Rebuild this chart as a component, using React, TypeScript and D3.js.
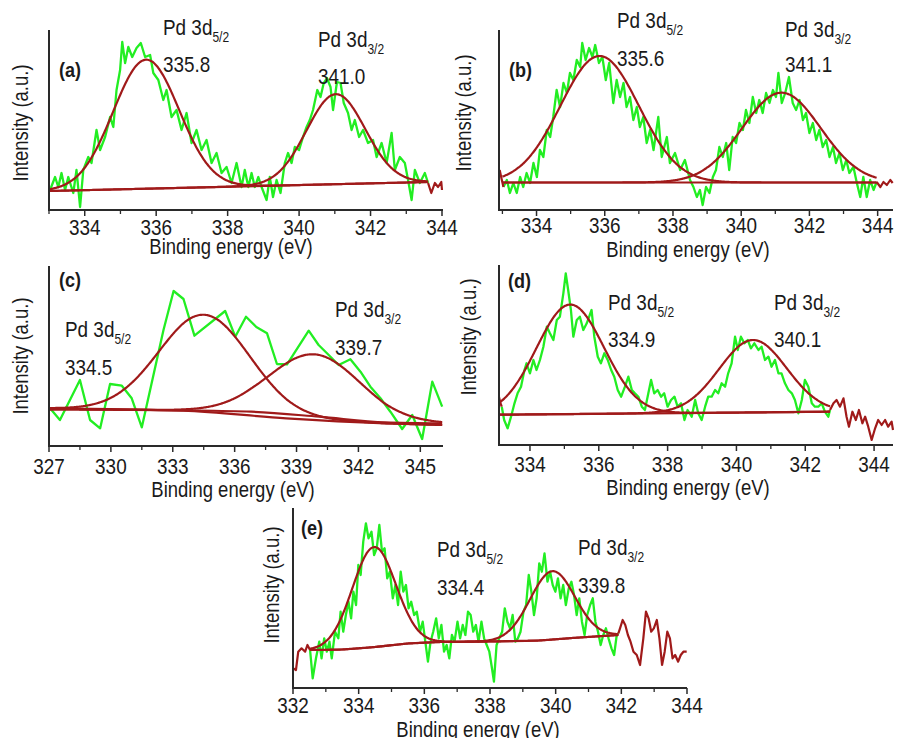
import React from "react";
import * as d3 from "d3";

type Pt = [number, number];

// ---- panel (a) ----
const aData: Pt[] = [
  [333.03, 20], [333.17, 33], [333.26, 23], [333.35, 37], [333.45, 20], [333.54, 33], [333.68, 17], [333.77, 40],
  [333.87, 3], [333.96, 40], [334.1, 53], [334.19, 47], [334.33, 80], [334.43, 60], [334.57, 73], [334.71, 93],
  [334.8, 83], [334.89, 120], [334.99, 140], [335.05, 168], [335.13, 147], [335.22, 163], [335.33, 153], [335.45, 162],
  [335.57, 167], [335.69, 153], [335.83, 155], [335.92, 137], [336.06, 130], [336.2, 110], [336.29, 120], [336.43, 93],
  [336.57, 100], [336.71, 80], [336.85, 97], [336.99, 67], [337.13, 80], [337.27, 60], [337.41, 70], [337.55, 47],
  [337.69, 57], [337.83, 37], [337.97, 43], [338.11, 27], [338.25, 47], [338.39, 23], [338.48, 40], [338.58, 23],
  [338.67, 37], [338.76, 23], [338.86, 33], [338.95, 23], [339.09, 10], [339.18, 33], [339.27, 13], [339.37, 30],
  [339.48, 17], [339.6, 47], [339.69, 57], [339.79, 47], [339.88, 63], [340.0, 60], [340.11, 73], [340.21, 83],
  [340.3, 90], [340.39, 100], [340.51, 120], [340.6, 113], [340.69, 127], [340.78, 132], [340.88, 123], [340.95, 100],
  [341.06, 128], [341.16, 127], [341.25, 107], [341.37, 97], [341.47, 80], [341.56, 90], [341.68, 73], [341.79, 80],
  [341.93, 67], [342.07, 70], [342.17, 53], [342.31, 67], [342.45, 47], [342.59, 77], [342.68, 40], [342.82, 53],
  [342.96, 47], [343.05, 30], [343.15, 10], [343.24, 40], [343.38, 27], [343.52, 37], [343.61, 27],
];
const aTail: Pt[] = [[343.61, 27], [343.7, 17], [343.8, 27], [343.89, 23], [343.98, 28], [344.0, 20]];
const aBaseline: Pt[] = [[333.0, 19], [343.61, 28]];
const aPeaks = [
  { center: 335.72, height: 129, sigma: 0.92 },
  { center: 341.03, height: 90, sigma: 0.82 },
];
const aTicks = [334, 336, 338, 340, 342, 344];
const aMinor = [333, 335, 337, 339, 341, 343];

// ---- panel (b) ----
const bData: Pt[] = [
  [333.03, 23], [333.13, 30], [333.22, 17], [333.32, 27], [333.42, 17], [333.52, 33], [333.61, 23], [333.71, 37],
  [333.81, 27], [333.91, 47], [334.01, 33], [334.1, 60], [334.2, 53], [334.3, 80], [334.4, 73], [334.49, 93],
  [334.59, 120], [334.69, 103], [334.79, 127], [334.89, 117], [334.98, 137], [335.08, 130], [335.18, 150], [335.28, 143],
  [335.34, 167], [335.44, 150], [335.54, 162], [335.64, 153], [335.72, 165], [335.83, 147], [335.93, 153], [336.03, 130],
  [336.13, 147], [336.25, 107], [336.35, 130], [336.45, 113], [336.55, 127], [336.64, 103], [336.74, 113], [336.84, 90],
  [336.94, 103], [337.03, 83], [337.13, 93], [337.23, 67], [337.33, 80], [337.43, 60], [337.57, 93], [337.67, 53],
  [337.82, 73], [337.91, 47], [338.06, 57], [338.21, 40], [338.35, 50], [338.5, 30], [338.6, 23], [338.7, 13],
  [338.79, 20], [338.87, 5], [338.97, 23], [339.07, 17], [339.17, 33], [339.26, 40], [339.36, 63], [339.46, 53],
  [339.56, 67], [339.65, 40], [339.75, 73], [339.85, 67], [339.95, 87], [340.05, 80], [340.14, 100], [340.24, 87],
  [340.34, 113], [340.44, 97], [340.53, 110], [340.63, 97], [340.73, 117], [340.83, 107], [340.93, 120], [341.02, 113],
  [341.09, 137], [341.19, 107], [341.29, 117], [341.4, 133], [341.51, 107], [341.61, 100], [341.71, 110], [341.81, 90],
  [341.9, 97], [342.0, 77], [342.1, 87], [342.2, 70], [342.29, 80], [342.39, 63], [342.49, 70], [342.59, 53],
  [342.69, 63], [342.78, 47], [342.88, 57], [342.98, 40], [343.08, 50], [343.17, 37], [343.29, 43], [343.39, 27],
  [343.49, 13], [343.58, 33], [343.68, 13], [343.78, 30], [343.88, 20], [343.97, 28],
];
const bTailLeft: Pt[] = [[332.92, 40], [332.97, 32], [333.03, 23]];
const bTail: Pt[] = [[343.97, 28], [344.08, 23], [344.17, 28], [344.27, 25], [344.37, 30], [344.44, 27]];
const bBaseline: Pt[] = [[333.0, 27.5], [343.97, 27.5]];
const bPeaks = [
  { center: 335.85, height: 126.5, sigma: 1.15 },
  { center: 341.18, height: 89.8, sigma: 1.15 },
];
const bTicks = [334, 336, 338, 340, 342, 344];
const bMinor = [333, 335, 337, 339, 341, 343];

// ---- panel (c) ----
const cData: Pt[] = [
  [327.05, 37.7], [327.53, 26], [328.5, 66], [328.99, 26], [329.48, 17.7], [329.96, 62], [330.53, 60.3], [331.01, 47.7],
  [331.5, 18.7], [332.55, 116], [333.04, 155], [333.52, 147], [334.05, 110.3], [335.54, 135], [336.03, 109.3],
  [336.55, 129.3], [337.05, 119], [337.57, 112.7], [338.05, 82], [338.54, 81.7], [339.59, 115.3], [340.07, 101],
  [340.56, 91], [341.04, 81], [341.61, 86.7], [342.1, 74.3], [342.58, 59.3], [343.07, 47.7], [343.55, 34.3],
  [344.12, 17], [344.61, 31], [345.09, 7], [345.58, 64.3], [346.06, 39.3],
];
const cBaseline1: Pt[] = [[327, 37.7], [333.5, 35.3], [338.5, 27.7], [343.3, 22.7], [346.06, 21]];
const cBaseline2: Pt[] = [[327, 36.7], [333.5, 35.7], [336.8, 34.3], [340.1, 29.3], [343.3, 23.7], [346.06, 22.7]];
const cPeaks = [
  { center: 334.54, height: 97.5, sigma: 2.2, base: 0 },
  { center: 339.88, height: 62, sigma: 2.2, base: 1 },
];
const cTicks = [327, 330, 333, 336, 339, 342, 345];
const cMinor = [328.5, 331.5, 334.5, 337.5, 340.5, 343.5];

// ---- panel (d) ----
const dData: Pt[] = [
  [333.18, 38.3], [333.25, 25], [333.35, 16.7], [333.45, 28.3], [333.55, 41.7], [333.64, 51.7], [333.74, 58.3],
  [333.84, 75], [333.9, 81.7], [334.0, 71.7], [334.1, 85], [334.19, 75], [334.29, 85], [334.39, 98.3], [334.49, 118.3],
  [334.58, 111.7], [334.68, 105], [334.78, 125], [334.87, 128.3], [334.97, 151.7], [335.04, 171.7], [335.11, 155],
  [335.19, 135], [335.26, 108.3], [335.36, 125], [335.45, 128.3], [335.55, 115], [335.65, 121.7], [335.79, 135],
  [335.87, 108.3], [335.97, 88.3], [336.06, 81.7], [336.16, 91.7], [336.26, 85], [336.36, 75], [336.45, 68.3],
  [336.55, 55], [336.65, 48.3], [336.76, 58.3], [336.86, 68.3], [336.96, 55], [337.05, 51.7], [337.15, 48.3],
  [337.25, 38.3], [337.34, 35], [337.44, 51.7], [337.52, 65], [337.61, 51.7], [337.71, 55], [337.81, 48.3],
  [337.9, 51.7], [338.0, 38.3], [338.1, 45], [338.2, 48.3], [338.29, 38.3], [338.39, 41.7], [338.49, 25], [338.58, 35],
  [338.7, 28.3], [338.8, 45], [338.89, 31.7], [338.99, 25], [339.09, 38.3], [339.18, 48.3], [339.28, 48.3],
  [339.38, 55], [339.47, 51.7], [339.57, 61.7], [339.67, 58.3], [339.76, 71.7], [339.86, 81.7], [339.96, 108.3],
  [340.04, 95], [340.13, 108.3], [340.23, 101.7], [340.33, 105], [340.42, 96.7], [340.52, 101.7], [340.64, 95],
  [340.73, 98.3], [340.83, 85], [340.93, 88.3], [341.02, 78.3], [341.12, 85], [341.22, 71.7], [341.31, 71.7],
  [341.41, 61.7], [341.51, 55], [341.61, 51.7], [341.7, 45], [341.8, 31.7], [341.9, 45], [341.99, 65], [342.09, 58.3],
  [342.19, 41.7], [342.28, 38.3], [342.38, 38.3], [342.48, 41.7], [342.57, 33.3], [342.67, 28.3], [342.72, 35],
];
const dTailLeft: Pt[] = [[333.1, 48], [333.14, 42], [333.18, 38.3]];
const dTail: Pt[] = [
  [342.72, 35], [342.82, 41.7], [342.91, 45], [343.01, 38.3], [343.11, 46.7], [343.2, 28.3], [343.27, 18.3],
  [343.37, 33.3], [343.47, 25], [343.56, 35], [343.66, 21.7], [343.74, 28.3], [343.83, 18.3], [343.93, 5],
  [344.03, 16.7], [344.12, 25], [344.22, 20], [344.32, 25], [344.41, 18.3], [344.51, 23.3], [344.55, 15],
];
const dBaseline: Pt[] = [[333.13, 30.3], [342.72, 33.3]];
const dPeaks = [
  { center: 335.17, height: 109.5, sigma: 0.98 },
  { center: 340.48, height: 72.4, sigma: 0.98 },
];
const dTicks = [334, 336, 338, 340, 342, 344];
const dMinor = [335, 337, 339, 341, 343];

// ---- panel (e) ----
const eData: Pt[] = [
  [332.52, 38], [332.6, 9.7], [332.7, 29.7], [332.8, 46.3], [332.87, 29.7], [332.95, 49.7], [333.03, 36.3],
  [333.11, 46.3], [333.18, 29.7], [333.28, 56.3], [333.38, 49.7], [333.45, 76.3], [333.53, 56.3], [333.61, 73],
  [333.69, 86.3], [333.77, 69.7], [333.84, 96.3], [333.92, 83], [333.99, 123], [334.06, 113], [334.14, 146.3],
  [334.22, 164.7], [334.3, 149.7], [334.39, 156.3], [334.47, 133], [334.55, 139.7], [334.63, 163], [334.71, 136.3],
  [334.79, 139.7], [334.87, 109.7], [334.95, 116.3], [335.04, 89.7], [335.12, 103], [335.2, 83], [335.28, 116.3],
  [335.36, 96.3], [335.44, 103], [335.52, 79.7], [335.6, 86.3], [335.69, 73], [335.77, 76.3], [335.87, 56.3],
  [335.95, 66.3], [336.03, 46.3], [336.11, 26.3], [336.19, 46.3], [336.27, 56.3], [336.36, 69.7], [336.44, 49.7],
  [336.52, 63], [336.6, 36.3], [336.68, 43], [336.76, 29.7], [336.84, 53], [336.92, 46.3], [337.01, 66.3],
  [337.09, 49.7], [337.17, 63], [337.25, 53], [337.33, 76.3], [337.41, 73], [337.49, 56.3], [337.57, 63],
  [337.65, 46.3], [337.74, 66.3], [337.82, 49.7], [337.9, 43], [337.98, 36.3], [338.06, 19.7], [338.12, 6.3],
  [338.2, 43], [338.28, 49.7], [338.37, 56.3], [338.45, 79.7], [338.53, 66.3], [338.61, 59.7], [338.69, 73],
  [338.77, 46.3], [338.85, 49.7], [338.93, 56.3], [339.02, 76.3], [339.1, 83], [339.18, 113], [339.26, 96.3],
  [339.34, 73], [339.42, 89.7], [339.5, 124.7], [339.58, 116.3], [339.66, 134.7], [339.75, 106.3], [339.83, 116.3],
  [339.91, 103], [339.99, 96.3], [340.07, 109.7], [340.15, 89.7], [340.23, 103], [340.31, 83], [340.4, 99.7],
  [340.48, 106.3], [340.56, 93], [340.64, 73], [340.72, 89.7], [340.8, 66.3], [340.88, 53], [340.96, 73], [341.05, 83],
  [341.13, 89.7], [341.21, 66.3], [341.29, 56.3], [341.37, 43], [341.45, 53], [341.53, 59.7], [341.61, 49.7],
  [341.7, 39.7], [341.78, 33], [341.86, 53], [341.91, 54.7],
];
const eTailLeft: Pt[] = [
  [332.01, 19.7], [332.09, 18], [332.16, 36.3], [332.26, 39.7], [332.37, 36.3], [332.44, 43], [332.52, 38],
];
const eTail: Pt[] = [
  [341.91, 54.7], [341.96, 59.7], [342.04, 68], [342.12, 63], [342.2, 53], [342.28, 46.3], [342.37, 36.3],
  [342.47, 33], [342.57, 23], [342.67, 49.7], [342.75, 76.3], [342.83, 69.7], [342.91, 56.3], [342.99, 59.7],
  [343.08, 68], [343.16, 49.7], [343.24, 23], [343.32, 36.3], [343.4, 56.3], [343.48, 49.7], [343.56, 29.7],
  [343.64, 33], [343.73, 26.3], [343.81, 33], [343.89, 36.3], [343.99, 36.3],
];
const eBaseline: Pt[] = [
  [332.52, 38], [333.5, 38.5], [334.5, 41], [335.5, 44.5], [336.5, 46], [338, 46.5], [339.5, 47.5], [340.5, 50], [341.91, 53],
];
const ePeaks = [
  { center: 334.47, height: 100, sigma: 0.66 },
  { center: 339.9, height: 68.3, sigma: 0.68 },
];
const eTicks = [332, 334, 336, 338, 340, 342, 344];
const eMinor = [333, 335, 337, 339, 341, 343];

const GREEN = "#22ee22";
const WINE = "#a01a1a";
const INK = "#1a1a1a";
const FONT = "'Liberation Sans', Arial, sans-serif";
const SX = 0.86;

const panels = [
  {
    tag: "(a)", tagPos: [59, 77], data: aData, tails: [aTail], baselines: [aBaseline],
    peaks: aPeaks.map((p) => ({ ...p, base: 0 })), fitRange: [333.0, 343.61],
    xDomain: [333, 344], xRange: [49, 442], axisEnd: 443, axisY: 210, ticks: aTicks, minor: aMinor, tickY: 235,
    yTitle: [28, 123], xTitle: [231, 254],
    notes: [
      { t: "Pd 3d", s: "5/2", x: 163, y: 35 }, { t: "335.8", x: 163, y: 72 },
      { t: "Pd 3d", s: "3/2", x: 318, y: 47 }, { t: "341.0", x: 318, y: 84 },
    ],
  },
  {
    tag: "(b)", tagPos: [509, 77], data: bData, tails: [bTailLeft, bTail], baselines: [bBaseline],
    peaks: bPeaks.map((p) => ({ ...p, base: 0 })), fitRange: [333.0, 343.97],
    xDomain: [332.9, 344.45], xRange: [499, 893], axisEnd: 893, axisY: 210, ticks: bTicks, minor: bMinor, tickY: 233,
    yTitle: [471, 113], xTitle: [688, 257],
    notes: [
      { t: "Pd 3d", s: "5/2", x: 617, y: 28 }, { t: "335.6", x: 617, y: 66 },
      { t: "Pd 3d", s: "3/2", x: 785, y: 37 }, { t: "341.1", x: 785, y: 72 },
    ],
  },
  {
    tag: "(c)", tagPos: [59, 287], data: cData, tails: [], baselines: [cBaseline1, cBaseline2],
    peaks: cPeaks, fitRange: [327, 346.06],
    xDomain: [327, 346.1], xRange: [49, 443], axisEnd: 443, axisY: 446, ticks: cTicks, minor: cMinor, tickY: 474,
    yTitle: [28, 356], xTitle: [233, 497],
    notes: [
      { t: "Pd 3d", s: "5/2", x: 65, y: 337 }, { t: "334.5", x: 65, y: 375 },
      { t: "Pd 3d", s: "3/2", x: 335, y: 317 }, { t: "339.7", x: 335, y: 355 },
    ],
  },
  {
    tag: "(d)", tagPos: [508, 288], data: dData, tails: [dTailLeft, dTail], baselines: [dBaseline],
    peaks: dPeaks.map((p) => ({ ...p, base: 0 })), fitRange: [333.13, 342.72],
    xDomain: [333.1, 344.55], xRange: [499, 893], axisEnd: 893, axisY: 445, ticks: dTicks, minor: dMinor, tickY: 472,
    yTitle: [476, 337], xTitle: [688, 495],
    notes: [
      { t: "Pd 3d", s: "5/2", x: 608, y: 310 }, { t: "334.9", x: 608, y: 347 },
      { t: "Pd 3d", s: "3/2", x: 774, y: 310 }, { t: "340.1", x: 774, y: 347 },
    ],
  },
  {
    tag: "(e)", tagPos: [301, 535], data: eData, tails: [eTailLeft, eTail], baselines: [eBaseline],
    peaks: ePeaks.map((p) => ({ ...p, base: 0 })), fitRange: [332.52, 341.91],
    xDomain: [332, 344], xRange: [293, 687], axisEnd: 687, axisY: 688, ticks: eTicks, minor: eMinor, tickY: 713,
    yTitle: [279, 585], xTitle: [478, 737],
    notes: [
      { t: "Pd 3d", s: "5/2", x: 437, y: 557 }, { t: "334.4", x: 437, y: 595 },
      { t: "Pd 3d", s: "3/2", x: 578, y: 555 }, { t: "339.8", x: 578, y: 593 },
    ],
  },
];

function Panel({ p }: { p: any }) {
  const x = d3.scaleLinear().domain(p.xDomain).range(p.xRange);
  const y = d3.scaleLinear().domain([0, 180]).range([p.axisY, p.axisY - 180]);
  const line = d3.line<Pt>().x((d) => x(d[0])).y((d) => y(d[1]));
  const smooth = d3.line<Pt>().x((d) => x(d[0])).y((d) => y(d[1])).curve(d3.curveMonotoneX);
  const left = p.xRange[0];

  // fitted components: baseline + gaussian, evaluated across the fit window
  const fits = p.peaks.map((pk: any) => {
    const base: Pt[] = p.baselines[pk.base];
    const bl = d3.scaleLinear().domain(base.map((b) => b[0])).range(base.map((b) => b[1])).clamp(true);
    const n = 400;
    const pts: Pt[] = d3.range(n + 1).map((i) => {
      const e = p.fitRange[0] + ((p.fitRange[1] - p.fitRange[0]) * i) / n;
      return [e, bl(e) + pk.height * Math.exp(-((e - pk.center) ** 2) / (2 * pk.sigma ** 2))];
    });
    return smooth(pts);
  });

  const txt = (tx: number, ty: number, extra = "") => `translate(${tx},${ty})${extra} scale(${SX},1)`;

  return (
    <g>
      {/* raw spectrum */}
      <path d={line(p.data) || ""} fill="none" stroke={GREEN} strokeWidth={2.3} strokeLinejoin="round" />
      {p.tails.map((t: Pt[], i: number) => (
        <path key={i} d={line(t) || ""} fill="none" stroke={WINE} strokeWidth={2.2} strokeLinejoin="round" />
      ))}
      {p.baselines.map((b: Pt[], i: number) => (
        <path key={i} d={smooth(b) || ""} fill="none" stroke={WINE} strokeWidth={2.2} />
      ))}
      {fits.map((d: string, i: number) => (
        <path key={i} d={d} fill="none" stroke={WINE} strokeWidth={2.2} />
      ))}

      {/* axes */}
      <line x1={left} x2={left} y1={p.axisY - 180} y2={p.axisY + 1} stroke="#2a2a2a" strokeWidth={2} />
      <line x1={left - 1} x2={p.axisEnd} y1={p.axisY} y2={p.axisY} stroke="#2a2a2a" strokeWidth={2} />
      {p.ticks.map((t: number) => (
        <line key={"M" + t} x1={x(t)} x2={x(t)} y1={p.axisY} y2={p.axisY + 6} stroke="#2a2a2a" strokeWidth={1.5} />
      ))}
      {p.minor.map((t: number) => (
        <line key={"m" + t} x1={x(t)} x2={x(t)} y1={p.axisY} y2={p.axisY + 4} stroke="#2a2a2a" strokeWidth={1.3} />
      ))}
      {p.ticks.map((t: number) => (
        <text key={"L" + t} transform={txt(x(t), p.tickY)} textAnchor="middle" fontSize={22} fill={INK}>
          {t}
        </text>
      ))}

      <text transform={txt(p.xTitle[0], p.xTitle[1])} textAnchor="middle" fontSize={21.5} fill={INK}>
        Binding energy (eV)
      </text>
      <text transform={txt(p.yTitle[0], p.yTitle[1], " rotate(-90)")} textAnchor="middle" fontSize={21.5} fill={INK}>
        Intensity (a.u.)
      </text>
      <text transform={txt(p.tagPos[0], p.tagPos[1])} fontSize={21} fontWeight="bold" fill={INK}>
        {p.tag}
      </text>
      {p.notes.map((n: any, i: number) => (
        <text key={i} transform={txt(n.x, n.y)} fontSize={22} fill={INK}>
          {n.t}
          {n.s && (
            <tspan fontSize={14} dy={7}>
              {n.s}
            </tspan>
          )}
        </text>
      ))}
    </g>
  );
}

export default function App() {
  return (
    <svg
      width={902}
      height={738}
      style={{ position: "absolute", left: 0, top: 0, background: "#fff", display: "block" }}
      fontFamily={FONT}
    >
      <rect width={902} height={738} fill="#fff" />
      {panels.map((p) => (
        <Panel key={p.tag} p={p} />
      ))}
    </svg>
  );
}
